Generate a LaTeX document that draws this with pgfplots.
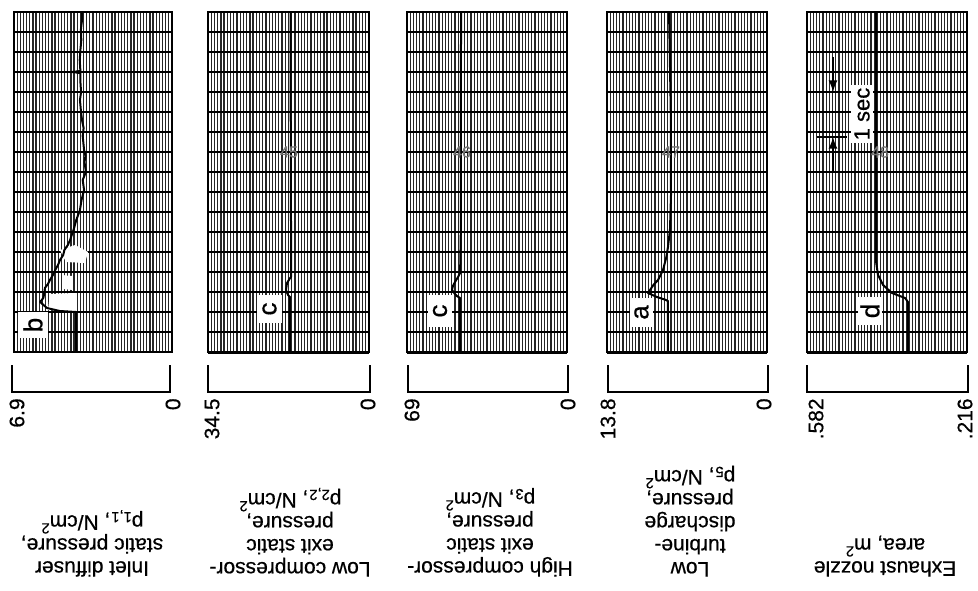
\documentclass[border=0pt]{standalone}
\usepackage{pgfplots}
\pgfplotsset{compat=1.18}
\usepackage{fontspec}
\setmainfont{Liberation Sans}[FakeBold=0.6]
\pgfplotsset{
  gridax/.style n args={2}{at={(#1,-6pt)}, anchor=north west, scale only axis,
    width=#2, height=170pt, xmin=0, xmax=50, ymin=0, ymax=17,
    xtick={0,...,50}, ytick={0,...,17}, xticklabels={}, yticklabels={},
    major tick length=0pt, grid=major,
    x grid style={black!85, line width=0.65pt},
    y grid style={black, line width=0.9pt},
    axis line style={black, line width=0.9pt}},
  dataax/.style n args={4}{at={(#1,-6pt)}, anchor=north west, scale only axis,
    width=#2, height=170pt, xmin=#3, xmax=#4, x dir=reverse,
    ymin=0, ymax=17, hide axis, clip=false},
  trace/.style={black, line width=1pt, line join=round, no markers}
}
\begin{document}
\begin{tikzpicture}[x=0.5pt,y=-0.5pt]
\path[use as bounding box] (0,0) rectangle (978,590);

% ---------------- Panel 1 ----------------
\begin{axis}[gridax={7pt}{79pt}]
\end{axis}
\fill[white] (60,250)--(75,245)--(88,252)--(85,263)--(66,262)--cycle;
\fill[white] (62,275)--(72,276)--(73,290)--(63,289)--cycle;
\fill[white] (50,294)--(75,293)--(76,311)--(48,310)--cycle;
\begin{axis}[dataax={7pt}{79pt}{0}{6.9}]
\addplot[trace] coordinates {
(4.19,0) (4.19,2.0) (4.9,2.05) (5.46,2.2) (5.76,2.5) (5.62,2.7) (5.59,2.85)
(5.55,3.2) (5.42,3.4) (5.33,3.6) (5.2,3.85) (5.1,4.1) (4.98,4.35) (4.89,4.6)
(4.75,4.85) (4.7,5.1) (4.55,5.35) (4.45,5.6) (4.38,5.85) (4.3,6.1) (4.18,6.6)
(4.02,7.1) (3.95,7.6) (3.84,8.1) (3.9,8.6) (3.76,9.0) (3.82,9.5) (3.78,9.8)
(3.84,10.1) (3.9,10.8) (3.86,11.2) (3.93,11.6) (3.98,12.1) (4.02,12.6)
(3.97,13.0) (4.0,13.5) (4.0,13.95) (4.37,14.0) (4.0,14.05) (4.03,14.6)
(4.0,15.1) (3.96,15.6) (3.98,16.1) (3.93,16.6) (3.93,17)};
\end{axis}

% ---------------- Panel 2 ----------------
\begin{axis}[gridax={104pt}{80.5pt}]
\end{axis}
\begin{axis}[dataax={104pt}{80.5pt}{0}{34.5}]
\addplot[trace] coordinates {
(16.93,0) (16.93,2.75) (17.36,2.85) (17.79,3.1) (17.57,3.45) (16.9,3.7)
(16.71,3.75) (16.71,6) (16.75,10) (16.8,14) (16.8,17)};
\end{axis}

% ---------------- Panel 3 ----------------
\begin{axis}[gridax={203.5pt}{80pt}]
\end{axis}
\begin{axis}[dataax={203.5pt}{80pt}{0}{69}]
\addplot[trace] coordinates {
(46.1,0) (46.1,2.7) (47.5,2.8) (48.3,2.9) (49.6,3.1) (49.2,3.3) (48.3,3.5)
(47.0,3.75) (46.1,3.95) (45.8,6) (45.7,17)};
\end{axis}

% ---------------- Panel 4 ----------------
\begin{axis}[gridax={303.5pt}{80pt}]
\end{axis}
\begin{axis}[dataax={303.5pt}{80pt}{0}{13.8}]
\addplot[trace] coordinates {
(8.54,0) (8.54,2.55) (8.8,2.62) (9.5,2.75) (10.26,2.95) (10.09,3.1)
(9.8,3.35) (9.4,3.6) (8.97,4.1) (8.7,4.7) (8.54,5.25) (8.37,6.1)
(8.28,7.85) (8.3,12) (8.45,17)};
\end{axis}

% ---------------- Panel 5 ----------------
\begin{axis}[gridax={403.5pt}{80pt}]
\end{axis}
\begin{axis}[dataax={403.5pt}{80pt}{0.216}{0.582}]
\addplot[trace] coordinates {
(0.351,0) (0.351,2.5) (0.3578,2.7) (0.3876,2.95) (0.408,3.35) (0.4196,3.85)
(0.424,4.5) (0.424,10) (0.424,17)};
\end{axis}

% heavy bottom lines
\foreach \a/\b in {208/369,407/567,607/767,807/967}
  \draw[line width=1.5pt] (\a,352) -- (\b,352);

% letter boxes
\fill[white] (18,312) rectangle (48,338);
\node[rotate=90, font=\fontsize{13}{13}\selectfont] at (33,325) {b};
\fill[white] (257,295) rectangle (282,323);
\node[rotate=90, font=\fontsize{13}{13}\selectfont] at (269.5,309) {c};
\fill[white] (428,295) rectangle (452,327);
\node[rotate=90, font=\fontsize{13}{13}\selectfont] at (440,311) {c};
\fill[white] (630,298) rectangle (653,327);
\node[rotate=90, font=\fontsize{13}{13}\selectfont] at (641.5,312.5) {a};
\fill[white] (858,297) rectangle (882,325);
\node[rotate=90, font=\fontsize{13}{13}\selectfont] at (870,311) {d};

% chart paper numbers
\foreach \xx/\t in {289/45,462/46,671/47,880/48}
  \node[font=\fontsize{8}{8}\selectfont, text=black!55] at (\xx,152) {\t};

% 1 sec marker
\draw[line width=1pt] (817,92) -- (847,92);
\draw[line width=1pt,-latex] (833,57) -- (833,92);
\draw[line width=1pt] (817,137) -- (847,137);
\draw[line width=1pt,-latex] (833,172) -- (833,137);
\node[rotate=90, fill=white, inner sep=1.5pt, font=\fontsize{11}{11}\selectfont] at (862,114) {1 sec};

% scale brackets
\foreach \a/\b in {12/170,208/370,408/568,608/768,807/968}
  \draw[line width=1pt] (\a,365) -- (\a,392) -- (\b,392) -- (\b,365);

% scale numbers
\tikzset{sc/.style={rotate=90, anchor=east, inner sep=0pt, font=\fontsize{10.5}{10.5}\selectfont}}
\node[sc] at (17,398) {6.9};
\node[sc] at (173,398) {0};
\node[sc] at (212,398) {34.5};
\node[sc] at (368,398) {0};
\node[sc] at (412,398) {69};
\node[sc] at (568,398) {0};
\node[sc] at (608,398) {13.8};
\node[sc] at (764,398) {0};
\node[sc] at (816,398) {.582};
\node[sc] at (965,398) {.216};

% axis titles (upside down)
\tikzset{lab/.style={rotate=180, anchor=north, align=center, inner sep=0pt,
  font=\fontsize{10.5}{11.5}\selectfont}}
\node[lab] at (92,577) {Inlet diffuser\\static pressure,\\p\textsubscript{1,1}, N/cm\textsuperscript{2}};
\node[lab] at (290,577) {Low compressor-\\exit static\\pressure,\\p\textsubscript{2,2}, N/cm\textsuperscript{2}};
\node[lab] at (490,577) {High compressor-\\exit static\\pressure,\\p\textsubscript{3}, N/cm\textsuperscript{2}};
\node[lab] at (690,577) {Low\\turbine-\\discharge\\pressure,\\p\textsubscript{5}, N/cm\textsuperscript{2}};
\node[lab] at (885,577) {Exhaust nozzle\\area, m\textsuperscript{2}};
\end{tikzpicture}
\end{document}
